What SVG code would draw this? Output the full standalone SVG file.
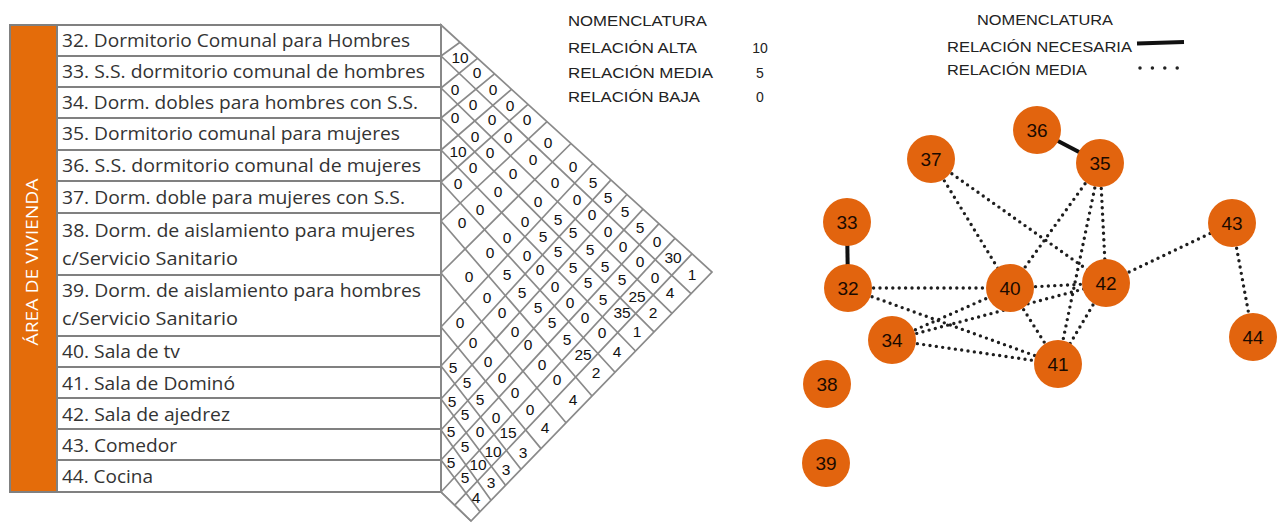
<svg xmlns="http://www.w3.org/2000/svg" width="1282" height="525" viewBox="0 0 1282 525">
<style>
.cell{fill:#fff;stroke:#808080;stroke-width:2}
.lbl{font-family:"Open Sans","Liberation Sans",sans-serif;font-size:17.5px;fill:#333}
.grid{stroke:#8a8a8a;stroke-width:1.7;fill:none}
.num{font-family:"Liberation Sans",Arial,sans-serif;font-size:15.5px;fill:#111;text-anchor:middle}
.leg{font-family:"Liberation Sans",Arial,sans-serif;font-size:14px;fill:#222}
.node circle{fill:#E2640E}
.node text{font-family:"Liberation Sans",Arial,sans-serif;font-size:19px;fill:#1a0a00;text-anchor:middle}
.dot{stroke:#1e1e1e;stroke-width:3.4;stroke-linecap:round;stroke-dasharray:0 6.4;fill:none}
.solid{stroke:#111;stroke-width:4;fill:none}
</style>
<rect width="1282" height="525" fill="#fff"/>
<g id="area">
<rect x="10" y="25" width="47" height="467" fill="#E46C0A" stroke="#808080" stroke-width="2"/>
<text transform="translate(38,262) rotate(-90)" text-anchor="middle" font-family="Open Sans, Liberation Sans, sans-serif" font-size="16" fill="#fff" textLength="167" lengthAdjust="spacingAndGlyphs">ÁREA DE VIVIENDA</text>
</g>
<g id="r32"><rect class="cell" x="57" y="25" width="384" height="31"/><text class="lbl" x="62" y="47" textLength="348" lengthAdjust="spacingAndGlyphs">32. Dormitorio Comunal para Hombres</text></g>
<g id="r33"><rect class="cell" x="57" y="56" width="384" height="31"/><text class="lbl" x="62" y="78" textLength="363" lengthAdjust="spacingAndGlyphs">33. S.S. dormitorio comunal de hombres</text></g>
<g id="r34"><rect class="cell" x="57" y="87" width="384" height="31"/><text class="lbl" x="62" y="109" textLength="356" lengthAdjust="spacingAndGlyphs">34. Dorm. dobles para hombres con S.S.</text></g>
<g id="r35"><rect class="cell" x="57" y="118" width="384" height="32"/><text class="lbl" x="62" y="140" textLength="338" lengthAdjust="spacingAndGlyphs">35. Dormitorio comunal para mujeres</text></g>
<g id="r36"><rect class="cell" x="57" y="150" width="384" height="31"/><text class="lbl" x="62" y="172" textLength="359" lengthAdjust="spacingAndGlyphs">36. S.S. dormitorio comunal de mujeres</text></g>
<g id="r37"><rect class="cell" x="57" y="181" width="384" height="32"/><text class="lbl" x="62" y="204" textLength="343" lengthAdjust="spacingAndGlyphs">37. Dorm. doble para mujeres con S.S.</text></g>
<g id="r38"><rect class="cell" x="57" y="213" width="384" height="62"/><text class="lbl" x="62" y="237" textLength="353" lengthAdjust="spacingAndGlyphs">38. Dorm. de aislamiento para mujeres</text><text class="lbl" x="62" y="265" textLength="176" lengthAdjust="spacingAndGlyphs">c/Servicio Sanitario</text></g>
<g id="r39"><rect class="cell" x="57" y="275" width="384" height="61"/><text class="lbl" x="62" y="297" textLength="359" lengthAdjust="spacingAndGlyphs">39. Dorm. de aislamiento para hombres</text><text class="lbl" x="62" y="325" textLength="176" lengthAdjust="spacingAndGlyphs">c/Servicio Sanitario</text></g>
<g id="r40"><rect class="cell" x="57" y="336" width="384" height="31"/><text class="lbl" x="62" y="358" textLength="118" lengthAdjust="spacingAndGlyphs">40. Sala de tv</text></g>
<g id="r41"><rect class="cell" x="57" y="367" width="384" height="31"/><text class="lbl" x="62" y="390" textLength="173" lengthAdjust="spacingAndGlyphs">41. Sala de Dominó</text></g>
<g id="r42"><rect class="cell" x="57" y="398" width="384" height="31"/><text class="lbl" x="62" y="421" textLength="168" lengthAdjust="spacingAndGlyphs">42. Sala de ajedrez</text></g>
<g id="r43"><rect class="cell" x="57" y="429" width="384" height="31"/><text class="lbl" x="62" y="452" textLength="115" lengthAdjust="spacingAndGlyphs">43. Comedor</text></g>
<g id="r44"><rect class="cell" x="57" y="460" width="384" height="32"/><text class="lbl" x="62" y="483" textLength="91" lengthAdjust="spacingAndGlyphs">44. Cocina</text></g>
<g id="matrix">
<polygon class="grid" points="441,25 712,272 471,521 441,492"/>
<path class="grid" d="M441,56L691,293.7M441,88L672,313.3M441,118L654,331.9M441,150L635.5,351M441,182L615,372.2M441,221L592,396M441,273L566,422.8M441,327L541,448.6M441,366L521,469.3M441,399L505.5,485.3M441,430L491,500.3M441,460L480,511.7M441,492L471,521"/>
<path class="grid" d="M441,56L460,42.3M441,88L477.5,58.3M441,118L494.5,73.8M441,150L511.5,89.3M441,182L528,104.3M441,221L547,121.6M441,273L571,143.5M441,327L593,163.5M441,366L611,179.9M441,399L627,194.5M441,430L643,209.1M441,460L659,223.7M441,492L675,238.3M454.7,505.2L692,253.8"/>
<g class="num">
<text x="460" y="63">10</text><text x="477" y="78">0</text><text x="493" y="95">0</text><text x="510" y="111">0</text><text x="527" y="125">0</text><text x="548" y="148">0</text><text x="573" y="172">0</text><text x="593" y="188">5</text><text x="608" y="203">5</text><text x="625" y="217">5</text><text x="640" y="233">5</text><text x="657" y="247">0</text><text x="673" y="263">30</text><text x="692" y="280">1</text>
<text x="455" y="95">0</text><text x="473" y="110">0</text><text x="492" y="125">0</text><text x="508" y="143">0</text><text x="533" y="165">0</text><text x="555" y="188">0</text><text x="577" y="205">0</text><text x="592" y="220">0</text><text x="608" y="237">0</text><text x="623" y="252">0</text><text x="640" y="267">0</text><text x="655" y="283">0</text><text x="670" y="298">4</text>
<text x="455" y="123">0</text><text x="475" y="142">0</text><text x="490" y="158">0</text><text x="513" y="179">0</text><text x="538" y="207">0</text><text x="558" y="225">5</text><text x="573" y="238">5</text><text x="590" y="255">5</text><text x="605" y="272">5</text><text x="622" y="285">5</text><text x="637" y="302">25</text><text x="653" y="318">2</text>
<text x="458" y="157">10</text><text x="473" y="173">0</text><text x="498" y="197">0</text><text x="525" y="227">0</text><text x="543" y="242">5</text><text x="558" y="257">5</text><text x="573" y="273">5</text><text x="588" y="288">5</text><text x="603" y="305">5</text><text x="622" y="318">35</text><text x="637" y="337">1</text>
<text x="458" y="189">0</text><text x="480" y="215">0</text><text x="507" y="243">0</text><text x="527" y="261">0</text><text x="540" y="275">0</text><text x="555" y="292">0</text><text x="570" y="308">0</text><text x="585" y="323">0</text><text x="602" y="338">0</text><text x="617" y="357">4</text>
<text x="462" y="228">0</text><text x="490" y="258">0</text><text x="507" y="280">5</text><text x="522" y="298">5</text><text x="538" y="313">5</text><text x="552" y="328">5</text><text x="567" y="345">5</text><text x="583" y="360">25</text><text x="596" y="378">2</text>
<text x="469" y="282">0</text><text x="487" y="303">0</text><text x="502" y="318">0</text><text x="515" y="337">0</text><text x="528" y="350">0</text><text x="542" y="370">0</text><text x="557" y="385">0</text><text x="573" y="405">4</text>
<text x="460" y="328">0</text><text x="473" y="348">0</text><text x="488" y="367">0</text><text x="502" y="383">0</text><text x="515" y="398">0</text><text x="530" y="415">0</text><text x="545" y="433">4</text>
<text x="453" y="373">5</text><text x="467" y="388">5</text><text x="480" y="405">5</text><text x="496" y="423">0</text><text x="508" y="438">15</text><text x="523" y="458">3</text>
<text x="452" y="407">5</text><text x="465" y="420">5</text><text x="480" y="437">0</text><text x="493" y="457">10</text><text x="506" y="475">3</text>
<text x="451" y="437">5</text><text x="465" y="452">5</text><text x="478" y="470">10</text><text x="491" y="488">3</text>
<text x="451" y="468">5</text><text x="465" y="483">5</text><text x="476" y="503">4</text>
</g>
</g>
<g id="legend1" class="leg">
<text x="568" y="26" textLength="139" lengthAdjust="spacingAndGlyphs">NOMENCLATURA</text>
<text x="568" y="53" textLength="129" lengthAdjust="spacingAndGlyphs">RELACIÓN ALTA</text>
<text x="568" y="78" textLength="145" lengthAdjust="spacingAndGlyphs">RELACIÓN MEDIA</text>
<text x="568" y="102" textLength="132" lengthAdjust="spacingAndGlyphs">RELACIÓN BAJA</text>
<text x="760" y="53" text-anchor="middle">10</text>
<text x="760" y="78" text-anchor="middle">5</text>
<text x="760" y="102" text-anchor="middle">0</text>
</g>
<g id="legend2" class="leg">
<text x="977" y="25" textLength="136" lengthAdjust="spacingAndGlyphs">NOMENCLATURA</text>
<text x="947" y="52" textLength="185" lengthAdjust="spacingAndGlyphs">RELACIÓN NECESARIA</text>
<text x="947" y="75" textLength="140" lengthAdjust="spacingAndGlyphs">RELACIÓN MEDIA</text>
<line class="solid" x1="1137" y1="43.5" x2="1184" y2="42"/>
<line x1="1140" y1="68" x2="1180" y2="68" stroke="#222" stroke-width="3.5" stroke-linecap="round" stroke-dasharray="0 12.4"/>
</g>
<g id="connectors">
<line class="solid" x1="1037" y1="130" x2="1100" y2="163"/>
<line class="solid" x1="847" y1="222" x2="848" y2="288"/>
<line class="dot" x1="931" y1="159" x2="1010" y2="288"/>
<line class="dot" x1="931" y1="159" x2="1106" y2="283"/>
<line class="dot" x1="1100" y1="163" x2="1010" y2="288"/>
<line class="dot" x1="1100" y1="163" x2="1058" y2="364"/>
<line class="dot" x1="1100" y1="163" x2="1106" y2="283"/>
<line class="dot" x1="848" y1="288" x2="1010" y2="288"/>
<line class="dot" x1="848" y1="288" x2="1058" y2="364"/>
<line class="dot" x1="1010" y1="288" x2="1106" y2="283"/>
<line class="dot" x1="1106" y1="283" x2="1232" y2="223"/>
<line class="dot" x1="1232" y1="223" x2="1253" y2="337"/>
<line class="dot" x1="892" y1="340" x2="1010" y2="288"/>
<line class="dot" x1="892" y1="340" x2="1106" y2="283"/>
<line class="dot" x1="892" y1="340" x2="1058" y2="364"/>
<line class="dot" x1="1010" y1="288" x2="1058" y2="364"/>
<line class="dot" x1="1106" y1="283" x2="1058" y2="364"/>
</g>
<g id="n32" class="node"><circle cx="848" cy="288" r="24"/><text x="848" y="294.5">32</text></g>
<g id="n33" class="node"><circle cx="847" cy="222" r="24"/><text x="847" y="228.5">33</text></g>
<g id="n34" class="node"><circle cx="892" cy="340" r="24"/><text x="892" y="346.5">34</text></g>
<g id="n35" class="node"><circle cx="1100" cy="163" r="24"/><text x="1100" y="169.5">35</text></g>
<g id="n36" class="node"><circle cx="1037" cy="130" r="24"/><text x="1037" y="136.5">36</text></g>
<g id="n37" class="node"><circle cx="931" cy="159" r="24"/><text x="931" y="165.5">37</text></g>
<g id="n38" class="node"><circle cx="827" cy="384" r="24"/><text x="827" y="390.5">38</text></g>
<g id="n39" class="node"><circle cx="826" cy="463" r="24"/><text x="826" y="469.5">39</text></g>
<g id="n40" class="node"><circle cx="1010" cy="288" r="24"/><text x="1010" y="294.5">40</text></g>
<g id="n41" class="node"><circle cx="1058" cy="364" r="24"/><text x="1058" y="370.5">41</text></g>
<g id="n42" class="node"><circle cx="1106" cy="283" r="24"/><text x="1106" y="289.5">42</text></g>
<g id="n43" class="node"><circle cx="1232" cy="223" r="24"/><text x="1232" y="229.5">43</text></g>
<g id="n44" class="node"><circle cx="1253" cy="337" r="24"/><text x="1253" y="343.5">44</text></g>
</svg>
